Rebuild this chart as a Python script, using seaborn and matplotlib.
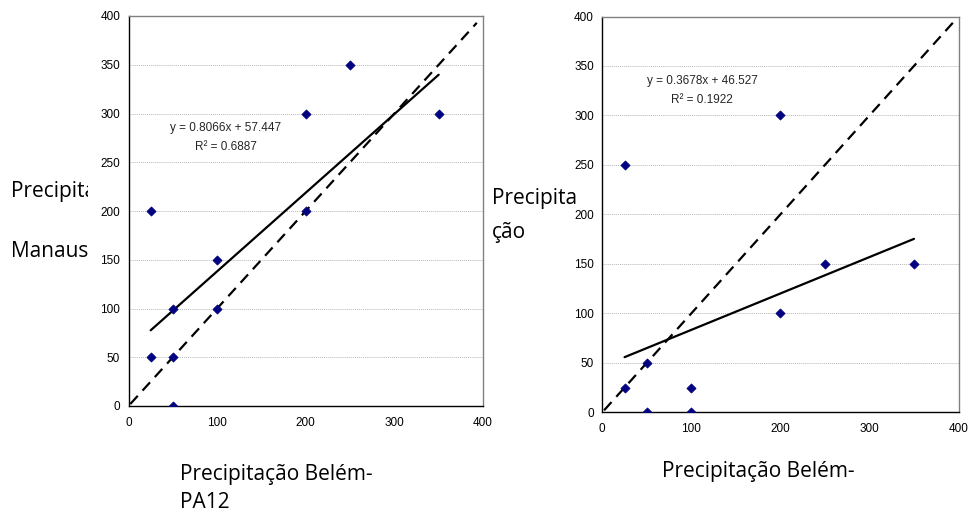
import numpy as np
import matplotlib
matplotlib.use("Agg")
import matplotlib.pyplot as plt
from matplotlib.transforms import Bbox
import seaborn as sns

# left panel: Belém-PA12 vs Manaus
x_left = [25, 25, 50, 50, 50, 100, 100, 200, 200, 250, 350]
y_left = [200, 50, 100, 50, 0, 150, 100, 300, 200, 350, 300]
slope_left, icpt_left, r2_left = 0.8066, 57.447, 0.6887

# right panel
x_right = [25, 25, 50, 50, 100, 100, 200, 200, 250, 350]
y_right = [250, 25, 50, 0, 25, 0, 300, 100, 150, 150]
slope_right, icpt_right, r2_right = 0.3678, 46.527, 0.1922

trend_x = [25, 350]
one_to_one_left = [2, 393]
one_to_one_right = [2, 396]

sns.set_style("white")
plt.rcParams["font.family"] = ["Liberation Sans", "DejaVu Sans"]

fig = plt.figure(figsize=(9.68, 5.15), dpi=100)
W, H = 968, 515


def px_axes(x0, y0, x1, y1):
    return fig.add_axes([x0 / W, 1 - y1 / H, (x1 - x0) / W, (y1 - y0) / H])


ax1 = px_axes(128.5, 16, 483, 406)
ax2 = px_axes(602.3, 16.5, 958.5, 412.3)

for ax, xs, ys, sl, ic, r2, dl, eqx, eqy in [
    (ax1, x_left, y_left, slope_left, icpt_left, r2_left, one_to_one_left, 110, (285, 266)),
    (ax2, x_right, y_right, slope_right, icpt_right, r2_right, one_to_one_right, 112, (335, 316)),
]:
    ax.set_xlim(0, 400)
    ax.set_ylim(0, 400)
    ax.set_xticks([0, 100, 200, 300, 400])
    ax.set_yticks(np.arange(0, 401, 50))
    ax.yaxis.grid(True, color="#b8b8b8", linestyle=(0, (1, 1)), linewidth=0.7)
    ax.set_axisbelow(True)
    ty = [sl * v + ic for v in trend_x]
    sns.lineplot(x=trend_x, y=ty, ax=ax, color="black", linewidth=1.6, zorder=3)
    sns.lineplot(x=dl, y=dl, ax=ax, color="black", linewidth=1.6,
                 linestyle=(0, (5, 3.2)), zorder=3)
    sns.scatterplot(x=xs, y=ys, ax=ax, marker="D", s=22, color="#000080",
                    edgecolor="#000080", linewidth=0.5, zorder=4)
    ax.text(eqx, eqy[0], f"y = {sl}x + {ic}", ha="center", va="center", fontsize=8.5)
    ax.text(eqx, eqy[1], f"R² = {r2}", ha="center", va="center", fontsize=8.5)
    for side in ["top", "right"]:
        ax.spines[side].set_color("#808080")
        ax.spines[side].set_linewidth(1.0)
    for side in ["left", "bottom"]:
        ax.spines[side].set_color("black")
        ax.spines[side].set_linewidth(1.0)
    ax.tick_params(axis="both", direction="out", length=4, width=0.8,
                   labelsize=8.5, colors="black", pad=2)
    ax.tick_params(axis="x", pad=4)
    ax.set_xlabel("")
    ax.set_ylabel("")

lab = dict(fontsize=15, family=["Open Sans", "DejaVu Sans"], color="black",
           ha="left", va="baseline")
# x labels
fig.text(180 / W, 1 - 480 / H, "Precipitação Belém-", **lab)
fig.text(180 / W, 1 - 508 / H, "PA12", **lab)
fig.text(662 / W, 1 - 477 / H, "Precipitação Belém-", **lab)

# y labels (clipped like the original text box)
clip_left = Bbox.from_extents(0, 0, 88, H)
t1 = fig.text(11 / W, 1 - 197 / H, "Precipitação", **lab)
t1.set_clip_box(clip_left)
t1.set_clip_on(True)
fig.text(11 / W, 1 - 257 / H, "Manaus", **lab)
fig.text(492 / W, 1 - 204 / H, "Precipita", **lab)
fig.text(492 / W, 1 - 238 / H, "ção", **lab)

fig.savefig("out.png", dpi=100)
